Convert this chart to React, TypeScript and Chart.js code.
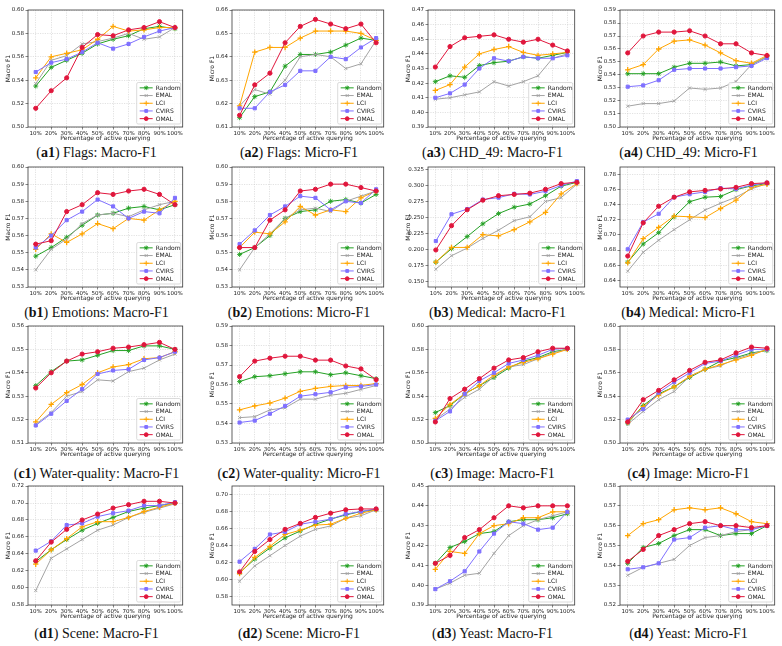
import React, { useEffect, useRef } from "react";
import { Chart, registerables } from "chart.js";
import { drawPoint } from "chart.js/helpers";

Chart.register(...registerables);

// ---------- data ----------
const categories = ["10%", "20%", "30%", "40%", "50%", "60%", "70%", "80%", "90%", "100%"];
const methods = ["Random", "EMAL", "LCI", "CVIRS", "OMAL"];

// Each table: one row per method, in the order of `methods`.
const flagsMacro = [
  [0.535, 0.551, 0.557, 0.563, 0.571, 0.575, 0.578, 0.584, 0.586, 0.584],
  [0.537, 0.557, 0.561, 0.571, 0.573, 0.576, 0.580, 0.575, 0.577, 0.585],
  [0.542, 0.560, 0.563, 0.566, 0.575, 0.586, 0.582, 0.583, 0.585, 0.585],
  [0.547, 0.555, 0.558, 0.564, 0.572, 0.567, 0.571, 0.577, 0.582, 0.585],
  [0.516, 0.531, 0.542, 0.568, 0.579, 0.578, 0.583, 0.585, 0.590, 0.585],
];
const flagsMicro = [
  [0.614, 0.623, 0.625, 0.636, 0.641, 0.641, 0.642, 0.645, 0.648, 0.647],
  [0.619, 0.626, 0.624, 0.630, 0.640, 0.641, 0.640, 0.635, 0.637, 0.647],
  [0.619, 0.642, 0.644, 0.644, 0.648, 0.651, 0.651, 0.651, 0.650, 0.647],
  [0.618, 0.618, 0.625, 0.628, 0.634, 0.634, 0.640, 0.639, 0.644, 0.648],
  [0.615, 0.628, 0.633, 0.646, 0.653, 0.656, 0.654, 0.652, 0.654, 0.646],
];
const chdMacro = [
  [0.421, 0.425, 0.424, 0.432, 0.434, 0.435, 0.438, 0.437, 0.439, 0.441],
  [0.409, 0.410, 0.412, 0.414, 0.421, 0.418, 0.421, 0.425, 0.437, 0.440],
  [0.415, 0.419, 0.431, 0.440, 0.443, 0.445, 0.441, 0.439, 0.440, 0.441],
  [0.410, 0.413, 0.419, 0.430, 0.437, 0.435, 0.438, 0.437, 0.437, 0.439],
  [0.431, 0.445, 0.451, 0.452, 0.453, 0.450, 0.448, 0.450, 0.446, 0.442],
];
const chdMicro = [
  [0.541, 0.541, 0.541, 0.546, 0.549, 0.549, 0.550, 0.547, 0.548, 0.554],
  [0.516, 0.518, 0.518, 0.520, 0.530, 0.529, 0.530, 0.535, 0.548, 0.554],
  [0.544, 0.548, 0.560, 0.566, 0.567, 0.563, 0.557, 0.551, 0.549, 0.555],
  [0.531, 0.532, 0.536, 0.544, 0.545, 0.545, 0.545, 0.546, 0.547, 0.553],
  [0.557, 0.570, 0.573, 0.573, 0.574, 0.570, 0.564, 0.564, 0.557, 0.555],
];
const emotionsMacro = [
  [0.548, 0.553, 0.559, 0.566, 0.572, 0.573, 0.576, 0.577, 0.575, 0.578],
  [0.540, 0.552, 0.558, 0.567, 0.572, 0.573, 0.571, 0.575, 0.578, 0.580],
  [0.552, 0.561, 0.556, 0.561, 0.567, 0.564, 0.570, 0.569, 0.575, 0.580],
  [0.553, 0.560, 0.569, 0.574, 0.581, 0.577, 0.570, 0.574, 0.573, 0.582],
  [0.555, 0.557, 0.574, 0.578, 0.585, 0.584, 0.586, 0.587, 0.584, 0.578],
];
const emotionsMicro = [
  [0.549, 0.553, 0.560, 0.570, 0.574, 0.575, 0.580, 0.581, 0.579, 0.584],
  [0.540, 0.553, 0.561, 0.570, 0.575, 0.576, 0.574, 0.580, 0.583, 0.586],
  [0.553, 0.562, 0.561, 0.568, 0.577, 0.572, 0.575, 0.574, 0.582, 0.586],
  [0.555, 0.563, 0.572, 0.577, 0.583, 0.582, 0.575, 0.580, 0.579, 0.587],
  [0.553, 0.553, 0.569, 0.575, 0.586, 0.587, 0.590, 0.590, 0.588, 0.586],
];
const medicalMacro = [
  [0.180, 0.201, 0.220, 0.240, 0.256, 0.266, 0.271, 0.284, 0.299, 0.305],
  [0.169, 0.190, 0.202, 0.217, 0.230, 0.245, 0.251, 0.275, 0.281, 0.302],
  [0.180, 0.203, 0.203, 0.223, 0.221, 0.231, 0.243, 0.258, 0.287, 0.303],
  [0.213, 0.255, 0.263, 0.278, 0.281, 0.287, 0.286, 0.291, 0.300, 0.307],
  [0.199, 0.237, 0.262, 0.277, 0.284, 0.286, 0.288, 0.294, 0.303, 0.305],
];
const medicalMicro = [
  [0.664, 0.688, 0.703, 0.724, 0.744, 0.750, 0.751, 0.760, 0.765, 0.768],
  [0.652, 0.677, 0.693, 0.707, 0.720, 0.733, 0.742, 0.750, 0.761, 0.768],
  [0.663, 0.695, 0.710, 0.725, 0.724, 0.723, 0.735, 0.746, 0.763, 0.767],
  [0.681, 0.717, 0.728, 0.750, 0.754, 0.757, 0.762, 0.761, 0.766, 0.769],
  [0.672, 0.716, 0.738, 0.750, 0.757, 0.759, 0.761, 0.763, 0.768, 0.769],
];
const waterMacro = [
  [0.5345, 0.5405, 0.545, 0.5455, 0.5475, 0.5495, 0.5495, 0.5515, 0.5515, 0.550],
  [0.518, 0.523, 0.530, 0.532, 0.537, 0.5365, 0.5405, 0.542, 0.5455, 0.548],
  [0.519, 0.5265, 0.5315, 0.535, 0.540, 0.5425, 0.5435, 0.546, 0.5465, 0.549],
  [0.5175, 0.5225, 0.528, 0.533, 0.5395, 0.541, 0.5415, 0.5455, 0.5465, 0.549],
  [0.5335, 0.540, 0.545, 0.548, 0.549, 0.5505, 0.551, 0.552, 0.553, 0.550],
];
const waterMicro = [
  [0.5615, 0.564, 0.5645, 0.5655, 0.5665, 0.5665, 0.565, 0.566, 0.5645, 0.563],
  [0.543, 0.5435, 0.547, 0.548, 0.5525, 0.5525, 0.5545, 0.5555, 0.5575, 0.5595],
  [0.547, 0.549, 0.5505, 0.553, 0.5565, 0.558, 0.559, 0.5595, 0.5595, 0.5605],
  [0.5405, 0.5415, 0.545, 0.549, 0.554, 0.555, 0.556, 0.5585, 0.559, 0.560],
  [0.564, 0.572, 0.5735, 0.5745, 0.5745, 0.5725, 0.5725, 0.5695, 0.568, 0.5625],
];
const imageMacro = [
  [0.526, 0.532, 0.542, 0.549, 0.556, 0.564, 0.570, 0.573, 0.578, 0.580],
  [0.520, 0.529, 0.539, 0.546, 0.557, 0.565, 0.567, 0.572, 0.577, 0.580],
  [0.521, 0.533, 0.542, 0.549, 0.558, 0.565, 0.569, 0.572, 0.576, 0.580],
  [0.519, 0.527, 0.542, 0.553, 0.560, 0.568, 0.571, 0.575, 0.580, 0.581],
  [0.518, 0.538, 0.546, 0.555, 0.564, 0.571, 0.573, 0.578, 0.581, 0.581],
];
const imageMicro = [
  [0.517, 0.532, 0.542, 0.548, 0.556, 0.563, 0.570, 0.573, 0.577, 0.579],
  [0.516, 0.527, 0.537, 0.544, 0.557, 0.563, 0.566, 0.572, 0.576, 0.580],
  [0.518, 0.531, 0.541, 0.548, 0.557, 0.563, 0.567, 0.571, 0.575, 0.580],
  [0.520, 0.529, 0.543, 0.552, 0.560, 0.568, 0.570, 0.575, 0.580, 0.580],
  [0.518, 0.537, 0.545, 0.554, 0.562, 0.569, 0.571, 0.577, 0.582, 0.581],
];
const sceneMacro = [
  [0.631, 0.645, 0.657, 0.668, 0.676, 0.683, 0.690, 0.694, 0.697, 0.700],
  [0.597, 0.635, 0.646, 0.657, 0.668, 0.674, 0.683, 0.689, 0.694, 0.699],
  [0.628, 0.645, 0.658, 0.672, 0.678, 0.678, 0.683, 0.690, 0.695, 0.700],
  [0.644, 0.655, 0.674, 0.676, 0.684, 0.688, 0.691, 0.697, 0.697, 0.701],
  [0.632, 0.654, 0.669, 0.680, 0.687, 0.694, 0.698, 0.702, 0.702, 0.700],
];
const sceneMicro = [
  [0.608, 0.624, 0.637, 0.649, 0.657, 0.665, 0.671, 0.676, 0.680, 0.682],
  [0.598, 0.616, 0.628, 0.640, 0.651, 0.659, 0.663, 0.672, 0.675, 0.682],
  [0.607, 0.626, 0.639, 0.653, 0.658, 0.664, 0.665, 0.672, 0.678, 0.682],
  [0.621, 0.636, 0.653, 0.656, 0.665, 0.668, 0.671, 0.677, 0.680, 0.683],
  [0.609, 0.633, 0.647, 0.659, 0.666, 0.673, 0.678, 0.682, 0.683, 0.683],
];
const yeastMacro = [
  [0.411, 0.419, 0.422, 0.426, 0.427, 0.432, 0.433, 0.433, 0.434, 0.436],
  [0.398, 0.401, 0.405, 0.406, 0.416, 0.425, 0.430, 0.433, 0.435, 0.437],
  [0.408, 0.417, 0.416, 0.426, 0.430, 0.431, 0.434, 0.434, 0.437, 0.437],
  [0.398, 0.402, 0.407, 0.417, 0.426, 0.432, 0.431, 0.428, 0.429, 0.437],
  [0.411, 0.415, 0.424, 0.428, 0.434, 0.440, 0.439, 0.440, 0.440, 0.440],
];
const yeastMicro = [
  [0.541, 0.549, 0.551, 0.555, 0.558, 0.558, 0.555, 0.556, 0.556, 0.560],
  [0.535, 0.539, 0.541, 0.543, 0.550, 0.554, 0.555, 0.557, 0.558, 0.560],
  [0.555, 0.561, 0.563, 0.568, 0.569, 0.568, 0.569, 0.566, 0.562, 0.561],
  [0.538, 0.539, 0.541, 0.553, 0.554, 0.559, 0.560, 0.558, 0.558, 0.560],
  [0.542, 0.548, 0.555, 0.558, 0.561, 0.562, 0.560, 0.560, 0.559, 0.560],
];

// y-axis tick labels
const flagsMacroTicks = ["0.50", "0.52", "0.54", "0.56", "0.58", "0.60"];
const flagsMicroTicks = ["0.61", "0.62", "0.63", "0.64", "0.65", "0.66"];
const chdMacroTicks = ["0.39", "0.40", "0.41", "0.42", "0.43", "0.44", "0.45", "0.46", "0.47"];
const chdMicroTicks = ["0.50", "0.51", "0.52", "0.53", "0.54", "0.55", "0.56", "0.57", "0.58", "0.59"];
const emotionsTicks = ["0.53", "0.54", "0.55", "0.56", "0.57", "0.58", "0.59", "0.60"];
const medicalMacroTicks = ["0.150", "0.175", "0.200", "0.225", "0.250", "0.275", "0.300", "0.325"];
const medicalMicroTicks = ["0.64", "0.66", "0.68", "0.70", "0.72", "0.74", "0.76", "0.78"];
const waterMacroTicks = ["0.51", "0.52", "0.53", "0.54", "0.55", "0.56"];
const waterMicroTicks = ["0.53", "0.54", "0.55", "0.56", "0.57", "0.58", "0.59"];
const imageTicks = ["0.50", "0.52", "0.54", "0.56", "0.58", "0.60"];
const sceneMacroTicks = ["0.58", "0.60", "0.62", "0.64", "0.66", "0.68", "0.70", "0.72"];
const sceneMicroTicks = ["0.58", "0.60", "0.62", "0.64", "0.66", "0.68", "0.70"];
const yeastMacroTicks = ["0.39", "0.40", "0.41", "0.42", "0.43", "0.44", "0.45"];
const yeastMicroTicks = ["0.52", "0.53", "0.54", "0.55", "0.56", "0.57", "0.58"];

type PanelDef = {
  tag: string;
  name: string;
  metric: "Macro" | "Micro";
  values: number[][];
  ticks: string[];
  min?: number;
  max?: number;
};

const panels: PanelDef[] = [
  { tag: "a1", name: "Flags", metric: "Macro", values: flagsMacro, ticks: flagsMacroTicks },
  { tag: "a2", name: "Flags", metric: "Micro", values: flagsMicro, ticks: flagsMicroTicks },
  { tag: "a3", name: "CHD_49", metric: "Macro", values: chdMacro, ticks: chdMacroTicks },
  { tag: "a4", name: "CHD_49", metric: "Micro", values: chdMicro, ticks: chdMicroTicks },
  { tag: "b1", name: "Emotions", metric: "Macro", values: emotionsMacro, ticks: emotionsTicks },
  { tag: "b2", name: "Emotions", metric: "Micro", values: emotionsMicro, ticks: emotionsTicks },
  { tag: "b3", name: "Medical", metric: "Macro", values: medicalMacro, ticks: medicalMacroTicks, min: 0.141, max: 0.329 },
  { tag: "b4", name: "Medical", metric: "Micro", values: medicalMicro, ticks: medicalMicroTicks, min: 0.631, max: 0.79 },
  { tag: "c1", name: "Water-quality", metric: "Macro", values: waterMacro, ticks: waterMacroTicks },
  { tag: "c2", name: "Water-quality", metric: "Micro", values: waterMicro, ticks: waterMicroTicks },
  { tag: "c3", name: "Image", metric: "Macro", values: imageMacro, ticks: imageTicks },
  { tag: "c4", name: "Image", metric: "Micro", values: imageMicro, ticks: imageTicks },
  { tag: "d1", name: "Scene", metric: "Macro", values: sceneMacro, ticks: sceneMacroTicks },
  { tag: "d2", name: "Scene", metric: "Micro", values: sceneMicro, ticks: sceneMicroTicks, min: 0.57, max: 0.71 },
  { tag: "d3", name: "Yeast", metric: "Macro", values: yeastMacro, ticks: yeastMacroTicks },
  { tag: "d4", name: "Yeast", metric: "Micro", values: yeastMicro, ticks: yeastMicroTicks },
];

// ---------- styling ----------
const lineColors = ["#23a023", "#a3a3a3", "#ffa500", "#7f70ff", "#e0163c"];
const markerStyles = ["star", "crossRot", "cross", "rect", "circle"];
const markerRadius = [2.5, 2.2, 2.7, 2.2, 2.1];
const markerWidth = [0.9, 0.9, 1.3, 1, 1];

const SANS = "'DejaVu Sans', sans-serif";
const SERIF = "'Liberation Serif', 'Times New Roman', serif";

// layout of the 4 x 4 grid (pixels)
const colCanvasLeft = [0, 204, 400, 592];
const colPlotRight = [185, 386, 577, 777];
const rowPlotTop = [10, 167, 326, 486];
const rowPlotBottom = [127, 287, 443, 605];
const rowCaptionY = [153, 313, 474, 634];
const Y_AXIS_W = 28;
const X_AXIS_H = 15;
const PAD_TOP = 10;
const PAD_RIGHT = 3;

// frame around the plotting area
const framePlugin = {
  id: "frame",
  beforeDatasetsDraw(chart: any) {
    const { ctx, chartArea: a } = chart;
    ctx.save();
    ctx.strokeStyle = "#3a3a3a";
    ctx.lineWidth = 0.8;
    ctx.strokeRect(a.left, a.top, a.right - a.left, a.bottom - a.top);
    ctx.restore();
  },
};

// legend placed in the lower-right corner inside the plotting area
const insideLegendPlugin = {
  id: "insideLegend",
  afterDatasetsDraw(chart: any) {
    const { ctx, chartArea: a } = chart;
    const rowH = 7.7;
    const boxW = 44;
    const boxH = rowH * 5 + 3;
    const x0 = a.right - boxW - 2;
    const y0 = a.bottom - boxH - 3;
    ctx.save();
    ctx.beginPath();
    const r = 1.5;
    ctx.moveTo(x0 + r, y0);
    ctx.lineTo(x0 + boxW - r, y0);
    ctx.quadraticCurveTo(x0 + boxW, y0, x0 + boxW, y0 + r);
    ctx.lineTo(x0 + boxW, y0 + boxH - r);
    ctx.quadraticCurveTo(x0 + boxW, y0 + boxH, x0 + boxW - r, y0 + boxH);
    ctx.lineTo(x0 + r, y0 + boxH);
    ctx.quadraticCurveTo(x0, y0 + boxH, x0, y0 + boxH - r);
    ctx.lineTo(x0, y0 + r);
    ctx.quadraticCurveTo(x0, y0, x0 + r, y0);
    ctx.closePath();
    ctx.fillStyle = "rgba(255,255,255,0.85)";
    ctx.fill();
    ctx.strokeStyle = "#d2d2d2";
    ctx.lineWidth = 0.8;
    ctx.stroke();

    chart.data.datasets.forEach((ds: any, i: number) => {
      const y = y0 + 1.5 + rowH * (i + 0.5);
      ctx.strokeStyle = ds.borderColor;
      ctx.fillStyle = ds.borderColor;
      ctx.lineWidth = 1;
      ctx.beginPath();
      ctx.moveTo(x0 + 3, y);
      ctx.lineTo(x0 + 16, y);
      ctx.stroke();
      drawPoint(
        ctx,
        { pointStyle: markerStyles[i], radius: markerRadius[i] * 0.9, rotation: 0, borderWidth: markerWidth[i] } as any,
        x0 + 9.5,
        y
      );
      ctx.fillStyle = "#222";
      ctx.font = `6px ${SANS}`;
      ctx.textBaseline = "middle";
      ctx.textAlign = "left";
      ctx.fillText(methods[i], x0 + 19, y + 0.3);
    });
    ctx.restore();
  },
};

function Panel({ def, index }: { def: PanelDef; index: number }) {
  const ref = useRef<HTMLCanvasElement>(null);
  const col = index % 4;
  const row = Math.floor(index / 4);
  const plotRight = def.tag === "b3" ? 587 : colPlotRight[col];
  const left = colCanvasLeft[col];
  const top = rowPlotTop[row] - PAD_TOP;
  const width = plotRight + PAD_RIGHT - left;
  const height = rowPlotBottom[row] - top + X_AXIS_H;
  const plotCenter = left + Y_AXIS_W + (plotRight - left - Y_AXIS_W) / 2;

  useEffect(() => {
    const tickValues = def.ticks.map(Number);
    const yMin = def.min ?? tickValues[0];
    const yMax = def.max ?? tickValues[tickValues.length - 1];
    const chart = new Chart(ref.current as HTMLCanvasElement, {
      type: "line",
      data: {
        labels: categories,
        datasets: methods.map((m, i) => ({
          label: m,
          data: def.values[i],
          borderColor: lineColors[i],
          backgroundColor: lineColors[i],
          pointBackgroundColor: lineColors[i],
          pointBorderColor: lineColors[i],
          borderWidth: 1,
          pointStyle: markerStyles[i] as any,
          pointRadius: markerRadius[i],
          pointBorderWidth: markerWidth[i],
          tension: 0,
          order: methods.length - i,
        })),
      },
      options: {
        responsive: false,
        animation: false,
        devicePixelRatio: 1,
        events: [],
        layout: { padding: { top: PAD_TOP, right: PAD_RIGHT, left: 0, bottom: 0 } },
        plugins: { legend: { display: false }, tooltip: { enabled: false } },
        scales: {
          x: {
            type: "category",
            offset: true,
            grid: {
              offset: false,
              color: "#cfcfcf",
              lineWidth: 0.6,
              drawTicks: true,
              tickLength: 2.5,
              tickColor: "#333",
              tickWidth: 0.6,
            },
            border: { display: false, dash: [1.2, 1.2] },
            ticks: {
              font: { family: SANS, size: 5.5 },
              color: "#222",
              padding: 0.5,
              maxRotation: 0,
              autoSkip: false,
            },
            title: {
              display: true,
              text: "Percentage of active querying",
              font: { family: SANS, size: 6 },
              color: "#222",
              padding: 0,
            },
            afterFit: (s: any) => {
              s.height = X_AXIS_H;
            },
          },
          y: {
            type: "linear",
            min: yMin,
            max: yMax,
            afterBuildTicks: (s: any) => {
              s.ticks = tickValues.map((v) => ({ value: v }));
            },
            grid: {
              color: "#cfcfcf",
              lineWidth: 0.6,
              drawTicks: true,
              tickLength: 2.5,
              tickColor: "#333",
              tickWidth: 0.6,
            },
            border: { display: false, dash: [1.2, 1.2] },
            ticks: {
              font: { family: SANS, size: 5.5 },
              color: "#222",
              padding: 1.5,
              callback: (_v: any, i: number) => def.ticks[i],
            },
            title: {
              display: true,
              text: `${def.metric} F1`,
              font: { family: SANS, size: 6 },
              color: "#222",
              padding: { top: 4.5, bottom: 0 },
            },
            afterFit: (s: any) => {
              s.width = Y_AXIS_W;
            },
          },
        },
      },
      plugins: [framePlugin, insideLegendPlugin],
    } as any);
    return () => chart.destroy();
  }, []);

  return (
    <>
      <canvas
        ref={ref}
        width={width}
        height={height}
        style={{ position: "absolute", left, top, width, height }}
      />
      <div
        style={{
          position: "absolute",
          left: plotCenter - 10 - 100,
          top: rowCaptionY[row] - 9,
          width: 200,
          height: 18,
          lineHeight: "18px",
          textAlign: "center",
          fontFamily: SERIF,
          fontSize: 14,
          color: "#111",
          whiteSpace: "nowrap",
        }}
      >
        (<b>{def.tag}</b>) {def.name}: {def.metric}-F1
      </div>
    </>
  );
}

export default function App() {
  return (
    <div
      style={{
        position: "absolute",
        left: 0,
        top: 0,
        width: 782,
        height: 646,
        background: "#fff",
        overflow: "hidden",
      }}
    >
      {panels.map((p, i) => (
        <Panel key={p.tag} def={p} index={i} />
      ))}
    </div>
  );
}
